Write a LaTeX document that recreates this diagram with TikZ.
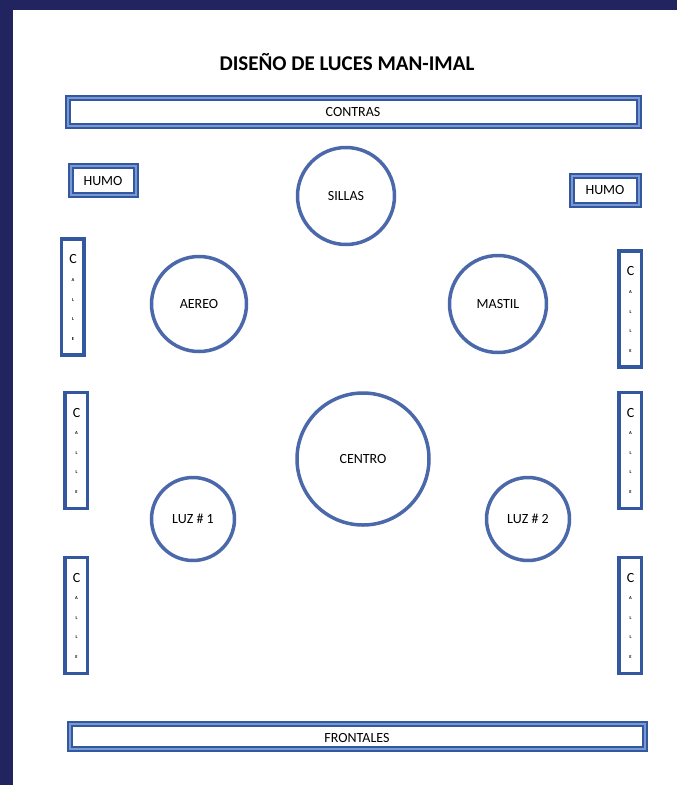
\documentclass[tikz,border=0pt]{standalone}
\usepackage{fontspec}
\setmainfont{Carlito}
\definecolor{navy}{HTML}{22245F}
\definecolor{bord}{HTML}{3458A0}
\definecolor{bordlight}{HTML}{7A98D2}
\definecolor{circ}{HTML}{4A68AA}
\begin{document}
\begin{tikzpicture}[x=1pt,y=-1pt,
  callebox/.style={draw=bord,line width=3.5pt,fill=white},
  ring/.style={draw=circ,line width=3.5pt,circle,inner sep=0pt,font=\fontsize{14}{16}\selectfont},
  lab/.style={font=\fontsize{14}{16}\selectfont},
  tiny/.style={font=\fontsize{4.5}{5}\selectfont\bfseries}]
\useasboundingbox (0,0) rectangle (677,785);
\fill[white] (0,0) rectangle (677,785);
\fill[navy] (0,0) rectangle (677,10);
\fill[navy] (0,0) rectangle (13,785);
% title
\node[font=\fontsize{21}{23}\selectfont\bfseries] (title) at (347,62) {DISEÑO DE LUCES MAN-IMAL};
% double boxes
\draw[draw=bord,line width=6pt] (68,98) rectangle (639,126);
\draw[draw=bordlight,line width=1.2pt] (68,98) rectangle (639,126);
\node[lab] (contras) at (353,112.5) {CONTRAS};
\draw[draw=bord,line width=6pt] (71,166) rectangle (136,195);
\draw[draw=bordlight,line width=1.2pt] (71,166) rectangle (136,195);
\node[lab] (humoL) at (103,181) {HUMO};
\draw[draw=bord,line width=6pt] (572,176) rectangle (639,205);
\draw[draw=bordlight,line width=1.2pt] (572,176) rectangle (639,205);
\node[lab] (humoR) at (605,190.5) {HUMO};
\draw[draw=bord,line width=6pt] (70,724) rectangle (645,749);
\draw[draw=bordlight,line width=1.2pt] (70,724) rectangle (645,749);
\node[lab] (frontales) at (357,737.5) {FRONTALES};
% calle boxes
\newcommand{\callebx}[2]{%
  \draw[callebox] (#1,#2) rectangle ({#1+22.5},{#2+116});
  \node[font=\fontsize{14}{16}\selectfont] at ({#1+11.5},{#2+20}) {C};
  \node[tiny] at ({#1+11.5},{#2+41}) {A};
  \node[tiny] at ({#1+11.5},{#2+61}) {L};
  \node[tiny] at ({#1+11.5},{#2+80}) {L};
  \node[tiny] at ({#1+11.5},{#2+100}) {E};}
\callebx{61.5}{239}
\callebx{65}{392.5}
\callebx{65}{557.5}
\callebx{619}{251}
\callebx{619}{392.5}
\callebx{619}{557.5}
% circles
\node[ring,minimum size=97pt] (sillas) at (346,196) {SILLAS};
\node[ring,minimum size=95pt] (aereo) at (199,304) {AEREO};
\node[ring,minimum size=97pt] (mastil) at (498,304) {MASTIL};
\node[ring,minimum size=132pt] (centro) at (363,459) {CENTRO};
\node[ring,minimum size=83pt] (luz1) at (193,519) {LUZ \# 1};
\node[ring,minimum size=83pt] (luz2) at (528,519) {LUZ \# 2};
\end{tikzpicture}
\end{document}
